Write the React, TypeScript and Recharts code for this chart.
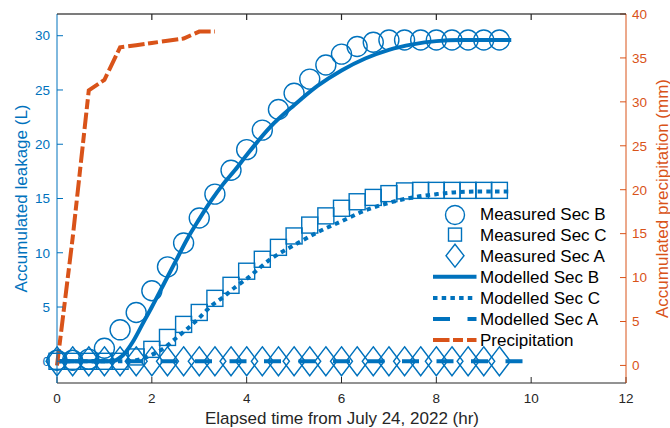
import {
  ComposedChart,
  Legend,
  Line,
  Scatter,
  XAxis,
  YAxis,
} from "recharts";

const BLUE = "#0072BD";
const ORANGE = "#D95319";
const AXIS = "#262626";
const FONT = '"Liberation Sans", Arial, Helvetica, sans-serif';

const CHART_W = 670;
const CHART_H = 428;
const PLOT_TOP = 14;
const LEFT_W = 57;
const RIGHT_W = 44;

// measured samples every 20 min
const measuredTime = [
  0, 0.33, 0.67, 1, 1.33, 1.67, 2, 2.33, 2.67, 3, 3.33, 3.67, 4, 4.33, 4.67,
  5, 5.33, 5.67, 6, 6.33, 6.67, 7, 7.33, 7.67, 8, 8.33, 8.67, 9, 9.33,
];
const measuredSecB = [
  0.1, 0.1, 0.2, 1.2, 2.9, 4.5, 6.5, 8.7, 10.9, 13.2, 15.4, 17.6, 19.5, 21.3,
  23.2, 24.7, 26.0, 27.3, 28.3, 29.0, 29.4, 29.6, 29.6, 29.6, 29.6, 29.6, 29.6,
  29.6, 29.6,
];
const measuredSecC = [
  0, 0, 0, 0, 0, 0.4, 1.1, 2.2, 3.4, 4.5, 5.8, 7.0, 8.3, 9.4, 10.5, 11.55,
  12.55, 13.4, 14.1, 14.7, 15.1, 15.45, 15.7, 15.75, 15.75, 15.75, 15.75, 15.75,
  15.75,
];
const measuredSecA = [
  0, 0, 0, 0, 0, 0, 0, 0, 0, 0, 0, 0, 0, 0, 0, 0, 0, 0, 0, 0, 0, 0, 0, 0, 0, 0,
  0, 0, 0,
];

// model curves
const modelTime = [
  0, 0.5, 1.0, 1.2, 1.4, 1.6, 1.8, 2.0, 2.25, 2.5, 2.75, 3.0, 3.25, 3.5, 3.75,
  4.0, 4.5, 5.0, 5.5, 6.0, 6.5, 7.0, 7.5, 8.0, 8.5, 9.0, 9.58,
];
const modelSecB = [
  0, 0, 0, 0.05, 0.6, 1.8, 3.4, 5.0, 7.1, 9.2, 11.3, 13.1, 14.8, 16.3, 17.6,
  19.0, 21.6, 23.6, 25.4, 26.8, 27.9, 28.7, 29.2, 29.5, 29.6, 29.6, 29.6,
];
const modelSecC = [
  0, 0, 0, 0, 0, 0.05, 0.25, 0.6, 1.2, 2.1, 3.0, 4.0, 5.1, 5.9, 6.8, 7.6, 9.4,
  10.7, 11.9, 12.9, 13.9, 14.6, 15.1, 15.4, 15.6, 15.65, 15.65,
];
const modelSecATime = [0, 9.83];
const modelSecA = [0, 0];

const precipTime = [0, 0.33, 0.67, 1, 1.33, 1.67, 2, 2.33, 2.67, 3, 3.33];
const precipitation = [0, 14.5, 31.3, 32.5, 36.2, 36.45, 36.7, 36.95, 37.2, 38.0, 38.0];

const xDomain = [0, 12];
const xTicks = [0, 2, 4, 6, 8, 10, 12];
const leftTicks = [0, 5, 10, 15, 20, 25, 30];
const rightTicks = [0, 5, 10, 15, 20, 25, 30, 35, 40];

const rows = (t: number[], v: number[]) => t.map((x, i) => ({ t: x, v: v[i] }));

function CircleMark(props: any) {
  const { cx, cy } = props;
  return <circle cx={cx} cy={cy} r={10} fill="none" stroke={BLUE} strokeWidth={1.4} />;
}

function SquareMark(props: any) {
  const { cx, cy } = props;
  return (
    <rect x={cx - 8} y={cy - 8} width={16} height={16} fill="none" stroke={BLUE} strokeWidth={1.4} />
  );
}

function DiamondMark(props: any) {
  const { cx, cy } = props;
  return (
    <path
      d={`M${cx},${cy - 14.5}L${cx + 11},${cy}L${cx},${cy + 14.5}L${cx - 11},${cy}Z`}
      fill="none"
      stroke={BLUE}
      strokeWidth={1.4}
    />
  );
}

// top edge of the axes box (matlab "box on"), ticks pointing inward
function TopFrame() {
  const x0 = LEFT_W;
  const x1 = CHART_W - RIGHT_W;
  const px = (t: number) => x0 + ((t - xDomain[0]) / (xDomain[1] - xDomain[0])) * (x1 - x0);
  return (
    <svg
      width={CHART_W}
      height={CHART_H}
      style={{ position: "absolute", left: 0, top: 0, pointerEvents: "none", zIndex: 5 }}
    >
      <rect x={x0} y={PLOT_TOP - 0.6} width={x1 - x0} height={1.2} fill={AXIS} />
      {xTicks.slice(1, -1).map((t) => (
        <rect key={t} x={px(t) - 0.6} y={PLOT_TOP} width={1.2} height={6} fill={AXIS} />
      ))}
    </svg>
  );
}

const legendItems = [
  "Measured Sec B",
  "Measured Sec C",
  "Measured Sec A",
  "Modelled Sec B",
  "Modelled Sec C",
  "Modelled Sec A",
  "Precipitation",
];

function LegendBox() {
  const rowY = (i: number) => 13.5 + i * 21.1;
  return (
    <svg width={220} height={152} style={{ display: "block", fontFamily: FONT }}>
      <circle cx={35} cy={rowY(0) + 1.5} r={9.5} fill="none" stroke={BLUE} strokeWidth={1.4} />
      <rect x={28.5} y={rowY(1) - 6.5} width={13} height={13} fill="none" stroke={BLUE} strokeWidth={1.4} />
      <path
        d={`M35,${rowY(2) - 11.5}L44,${rowY(2)}L35,${rowY(2) + 11.5}L26,${rowY(2)}Z`}
        fill="none"
        stroke={BLUE}
        strokeWidth={1.4}
      />
      <line x1={13} x2={56.5} y1={rowY(3)} y2={rowY(3)} stroke={BLUE} strokeWidth={4} />
      <line x1={13} x2={56.5} y1={rowY(4)} y2={rowY(4)} stroke={BLUE} strokeWidth={4} strokeDasharray="4.5 4.2" />
      <line x1={13} x2={56.5} y1={rowY(5)} y2={rowY(5)} stroke={BLUE} strokeWidth={4} strokeDasharray="17 17.5" />
      <line x1={13} x2={56.5} y1={rowY(6)} y2={rowY(6)} stroke={ORANGE} strokeWidth={4} strokeDasharray="16.5 3.5 10 4" />
      {legendItems.map((name, i) => (
        <text key={name} x={60} y={rowY(i) + 6} fontSize={17} fill="#000">
          {name}
        </text>
      ))}
    </svg>
  );
}

export default function App() {
  return (
    <div
      style={{
        position: "absolute",
        left: 0,
        top: 0,
        width: CHART_W,
        height: CHART_H,
        background: "#fff",
        fontFamily: FONT,
      }}
    >
      <ComposedChart width={CHART_W} height={CHART_H} margin={{ top: PLOT_TOP, right: 0, bottom: 0, left: 0 }}>
        <XAxis
          dataKey="t"
          type="number"
          domain={xDomain}
          ticks={xTicks}
          height={45}
          stroke={AXIS}
          tickSize={-6}
          tickMargin={16}
          tick={{ fontSize: 13.5, fill: AXIS }}
          label={{
            content: () => (
              <text x={342} y={418} textAnchor="middle" dominantBaseline="central" fontSize={17} fill={AXIS}>
                Elapsed time from July 24, 2022 (hr)
              </text>
            ),
          }}
        />
        <YAxis
          yAxisId="left"
          orientation="left"
          type="number"
          domain={[-2, 32]}
          ticks={leftTicks}
          width={LEFT_W}
          stroke={BLUE}
          tickSize={-6}
          tickMargin={13}
          tick={{ fontSize: 13.5, fill: BLUE }}
          label={{
            content: () => (
              <text
                x={21}
                y={198.5}
                transform="rotate(-90 21 198.5)"
                textAnchor="middle"
                dominantBaseline="central"
                fontSize={17}
                fill={BLUE}
              >
                Accumulated leakage (L)
              </text>
            ),
          }}
        />
        <YAxis
          yAxisId="right"
          orientation="right"
          type="number"
          domain={[-2, 40]}
          ticks={rightTicks}
          width={RIGHT_W}
          stroke={ORANGE}
          tickSize={-6}
          tickMargin={12}
          tick={{ fontSize: 13.5, fill: ORANGE }}
          label={{
            content: () => (
              <text
                x={662}
                y={198.5}
                transform="rotate(-90 662 198.5)"
                textAnchor="middle"
                dominantBaseline="central"
                fontSize={17}
                fill={ORANGE}
              >
                Accumulated precipitation (mm)
              </text>
            ),
          }}
        />
        <Legend
          layout="vertical"
          align="center"
          verticalAlign="middle"
          wrapperStyle={{ left: 420, top: 200, width: 220, height: 152 }}
          content={() => <LegendBox />}
        />

        <Scatter
          name="Measured Sec B"
          yAxisId="left"
          data={rows(measuredTime, measuredSecB)}
          dataKey="v"
          shape={CircleMark}
          isAnimationActive={false}
        />
        <Scatter
          name="Measured Sec C"
          yAxisId="left"
          data={rows(measuredTime, measuredSecC)}
          dataKey="v"
          shape={SquareMark}
          isAnimationActive={false}
        />
        <Scatter
          name="Measured Sec A"
          yAxisId="left"
          data={rows(measuredTime, measuredSecA)}
          dataKey="v"
          shape={DiamondMark}
          isAnimationActive={false}
        />
        <Line
          name="Modelled Sec B"
          yAxisId="left"
          data={rows(modelTime, modelSecB)}
          dataKey="v"
          type="monotone"
          stroke={BLUE}
          strokeWidth={4}
          dot={false}
          activeDot={false}
          isAnimationActive={false}
        />
        <Line
          name="Modelled Sec C"
          yAxisId="left"
          data={rows(modelTime, modelSecC)}
          dataKey="v"
          type="monotone"
          stroke={BLUE}
          strokeWidth={4}
          strokeDasharray="4.5 4.2"
          dot={false}
          activeDot={false}
          isAnimationActive={false}
        />
        <Line
          name="Modelled Sec A"
          yAxisId="left"
          data={rows(modelSecATime, modelSecA)}
          dataKey="v"
          type="linear"
          stroke={BLUE}
          strokeWidth={4}
          strokeDasharray="17 17.5"
          dot={false}
          activeDot={false}
          isAnimationActive={false}
        />
        <Line
          name="Precipitation"
          yAxisId="right"
          data={rows(precipTime, precipitation)}
          dataKey="v"
          type="linear"
          stroke={ORANGE}
          strokeWidth={4}
          strokeDasharray="16.5 3.5 10 4"
          dot={false}
          activeDot={false}
          isAnimationActive={false}
        />
      </ComposedChart>
      <TopFrame />
    </div>
  );
}
